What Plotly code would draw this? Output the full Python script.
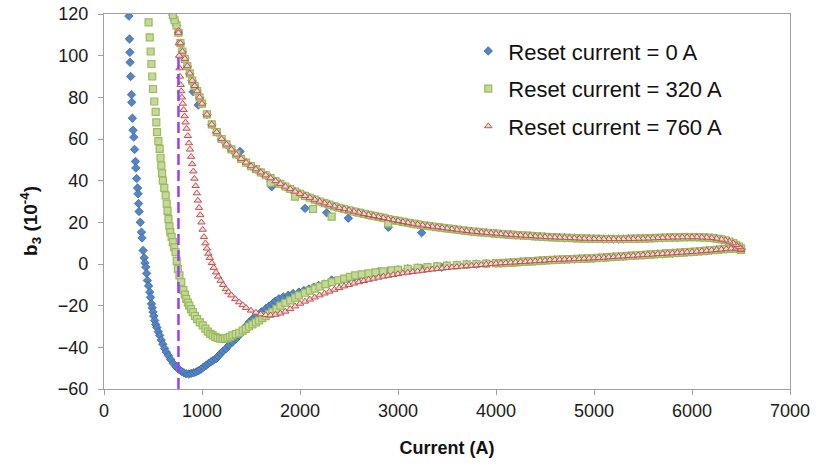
import plotly.graph_objects as go

# ---------------- data ----------------
# common down-ramp branch (6500 A -> 760 A), shared by all three runs
upper_current = [6500, 6480, 6450, 6420, 6380, 6340, 6300, 6250, 6200, 6150, 6100, 6050, 6000, 5950, 5900,
                 5850, 5800, 5750, 5700, 5650, 5600, 5550, 5500, 5450, 5400, 5350, 5300, 5250, 5200, 5150,
                 5100, 5050, 5000, 4950, 4900, 4850, 4800, 4750, 4700, 4650, 4600, 4550, 4500, 4450, 4400,
                 4350, 4300, 4250, 4200, 4150, 4100, 4050, 4000, 3950, 3900, 3850, 3800, 3750, 3700, 3650,
                 3600, 3550, 3500, 3450, 3400, 3350, 3300, 3250, 3200, 3150, 3100, 3050, 3000, 2950, 2900,
                 2850, 2800, 2750, 2700, 2650, 2600, 2550, 2500, 2450, 2400, 2350, 2300, 2250, 2200, 2150,
                 2100, 2050, 2000, 1950, 1900, 1850, 1800, 1750, 1700, 1650, 1600, 1550, 1500, 1450, 1400,
                 1350, 1300, 1250, 1200, 1150, 1100, 1050, 1000, 975, 950, 925, 900, 875, 850, 825, 800,
                 780, 760]
upper_b3 = [7.5, 8.3, 9.2, 10.0, 10.8, 11.4, 11.8, 12.2, 12.5, 12.7, 12.8, 12.9, 12.9, 12.9, 12.9,
            12.8, 12.8, 12.7, 12.6, 12.5, 12.4, 12.3, 12.2, 12.2, 12.1, 12.1, 12.0, 12.0, 12.0, 12.0,
            12.0, 12.1, 12.1, 12.2, 12.2, 12.3, 12.4, 12.5, 12.6, 12.7, 12.8, 12.9, 13.0, 13.2, 13.3,
            13.5, 13.6, 13.8, 13.9, 14.1, 14.2, 14.4, 14.6, 14.8, 15.0, 15.2, 15.4, 15.6, 15.9, 16.2,
            16.5, 16.8, 17.1, 17.4, 17.7, 18.0, 18.3, 18.6, 19.0, 19.4, 19.8, 20.2, 20.7, 21.1, 21.6,
            22.1, 22.6, 23.1, 23.6, 24.1, 24.7, 25.2, 25.8, 26.4, 27.0, 27.7, 28.5, 29.2, 30.0, 30.9,
            31.8, 32.7, 33.7, 34.8, 36.0, 37.2, 38.5, 39.8, 41.2, 42.6, 44.0, 45.5, 47.0, 48.7, 50.5,
            52.6, 55.0, 57.4, 60.0, 63.3, 67.0, 71.8, 77.0, 80.0, 83.0, 85.5, 88.0, 91.5, 95.0, 98.5, 102.0,
            106.0, 111.0]

# continuation of the down-ramp below 760 A (runs with reset 0 A and 320 A)
upper_ext_current = [740, 720, 703, 680, 650]
upper_ext_b3 = [114.5, 117.0, 119.5, 122.0, 127.0]

# common up-ramp tail (4050 A -> 6500 A)
lower_tail_current = [4050, 4100, 4150, 4200, 4250, 4300, 4350, 4400, 4450, 4500, 4550, 4600, 4650, 4700,
                      4750, 4800, 4850, 4900, 4950, 5000, 5050, 5100, 5150, 5200, 5250, 5300, 5350, 5400,
                      5450, 5500, 5550, 5600, 5650, 5700, 5750, 5800, 5850, 5900, 5950, 6000, 6050, 6100,
                      6150, 6200, 6250, 6300, 6350, 6400, 6450, 6500]
lower_tail_b3 = [0.4, 0.5, 0.7, 0.8, 1.0, 1.1, 1.3, 1.4, 1.6, 1.7, 1.9, 2.0, 2.1, 2.2,
                 2.3, 2.4, 2.5, 2.6, 2.7, 2.8, 3.0, 3.1, 3.3, 3.4, 3.6, 3.7, 3.9, 4.0,
                 4.2, 4.3, 4.5, 4.6, 4.8, 4.9, 5.1, 5.2, 5.4, 5.5, 5.7, 5.8, 6.0, 6.2,
                 6.4, 6.6, 6.8, 7.0, 7.2, 7.4, 7.5, 6.8]

# up-ramp, reset current = 760 A
red_lower_current = [760, 763, 767, 771, 776, 782, 788, 795, 803, 812, 822, 832, 843, 855, 866, 877, 889,
                     900, 912, 923, 935, 947, 958, 970, 982, 994, 1007, 1020, 1035, 1050, 1065, 1080, 1100,
                     1120, 1143, 1165, 1190, 1215, 1244, 1270, 1300, 1340, 1379, 1415, 1450, 1500, 1550,
                     1600, 1650, 1700, 1750, 1800, 1850, 1900, 1950, 2000, 2050, 2100, 2150, 2200, 2250,
                     2300, 2350, 2400, 2450, 2500, 2550, 2600, 2650, 2700, 2750, 2800, 2850, 2900, 2950,
                     3000, 3050, 3100, 3150, 3200, 3250, 3300, 3350, 3400, 3450, 3500, 3550, 3600, 3650,
                     3700, 3750, 3800, 3850, 3900, 3950, 4000]
red_lower_b3 = [112, 106, 100, 94, 90, 86, 83, 80, 77, 74, 71, 68, 65, 61.5, 58, 55, 51.5,
                48, 44.5, 41, 37.5, 34, 30.5, 27, 23.5, 20, 16.5, 13, 10, 7.5, 5, 3, 0.5,
                -1.8, -4, -6, -8, -10, -12, -13.5, -15, -16.8, -18.3, -19.7, -21, -22.3, -23.3,
                -24.1, -24.5, -24.6, -24.3, -23.7, -22.8, -21.6, -20.3, -19.0, -18.0, -17.0, -16.0, -15.0, -14.1,
                -13.2, -12.3, -11.5, -10.7, -10.0, -9.3, -8.7, -8.1, -7.5, -7.0, -6.5, -6.0, -5.6, -5.2,
                -4.8, -4.4, -4.1, -3.8, -3.5, -3.2, -2.9, -2.6, -2.3, -2.1, -1.8, -1.6, -1.4, -1.2,
                -1.0, -0.8, -0.6, -0.4, -0.2, 0.0, 0.2]

# up-ramp, reset current = 320 A
green_lower_current = [440, 455, 467, 476, 484, 492, 500, 513, 527, 534, 541, 555, 568, 577, 585, 593, 601,
                       615, 629, 640, 648, 658, 668, 676, 690, 703, 717, 730, 742, 754, 770, 788, 810, 825,
                       839, 855, 870, 888, 906, 928, 950, 978, 1007, 1035, 1060, 1085, 1109, 1135, 1160,
                       1185, 1210, 1235, 1260, 1285, 1311, 1345, 1380, 1415, 1447, 1480, 1515, 1550, 1582,
                       1615, 1650, 1685, 1717, 1760, 1800, 1850, 1900, 1950, 1988, 2050, 2100, 2150, 2200,
                       2260, 2325, 2390, 2450, 2510, 2563, 2630, 2700, 2770, 2850, 2934, 3000, 3100, 3200,
                       3300, 3400, 3500, 3600, 3700, 3800, 3900, 4000]
green_lower_b3 = [125, 116, 108.8, 102, 96, 90, 84, 78, 73, 68, 63.3, 59, 55.3, 51, 47.2, 43.5, 40,
                  36.5, 32.9, 29, 25.5, 21.5, 18, 15.3, 13, 10.5, 8, 5.7, 1.5, -2.3, -5.5, -8.7, -12.5, -14.7,
                  -16.7, -18.5, -20, -21.7, -23.1, -24.9, -26.5, -28, -29.5, -31, -32.5, -33.5, -34.3, -35, -35.5,
                  -35.8, -35.9, -35.8, -35.5, -35, -34.3, -33.6, -33, -32, -31.1, -30, -29, -28, -27.1,
                  -26, -25, -24, -23.1, -21.5, -20, -18.7, -17.5, -16.1, -15.1, -13.8, -12.8, -11.8, -10.8,
                  -9.7, -8.7, -7.8, -7, -6.2, -5.5, -5, -4.5, -4, -3.5, -3.1, -2.8, -2.3, -1.9,
                  -1.5, -1.1, -0.8, -0.5, -0.2, 0, 0.2, 0.4]

# up-ramp, reset current = 0 A
blue_lower_current = [230, 240, 254, 260, 264, 266, 272, 281, 283, 290, 297, 304, 312, 321, 325, 333, 342,
                      348, 353, 358, 370, 382, 388, 399, 410, 418, 426, 435, 443, 455, 467, 475, 484, 492,
                      500, 508, 517, 528, 540, 554, 568, 584, 600, 618, 636, 658, 680, 708, 737, 763, 790,
                      815, 839, 865, 890, 915, 940, 965, 990, 1015, 1042, 1065, 1090, 1115, 1143, 1165, 1190,
                      1215, 1244, 1275, 1310, 1345, 1379, 1405, 1430, 1455, 1481, 1520, 1560, 1605, 1650,
                      1685, 1720, 1750, 1785, 1830, 1880, 1930, 1988, 2040, 2090, 2140, 2191, 2245, 2300,
                      2350, 2400, 2450, 2495, 2550, 2600, 2650, 2700, 2760, 2830, 2900, 3000, 3100, 3200,
                      3300, 3400, 3500, 3600, 3700, 3800, 3900, 4000]
blue_lower_b3 = [135, 128, 119, 108, 101.6, 96.8, 90, 81.3, 77.6, 70, 64.2, 60.9, 55, 49.2, 46.1, 41, 36.5,
                 33.7, 29, 25.2, 20, 15.3, 12.5, 6.5, 3, 0.5, -1.5, -4.5, -7.9, -10.5, -13.5, -16, -19.1, -21,
                 -23, -25, -27.1, -29, -30.5, -32.5, -34.3, -36.5, -38.5, -40.5, -42.3, -44, -45.8, -47.8, -49.4,
                 -50.5, -51.5, -52.2, -52.7, -52.8, -52.5, -52.2, -51.8, -51.2, -50.5, -49.5, -48.7, -47.8, -47,
                 -46.2, -45.5, -44.2, -43, -41.8, -40.7, -39, -37.5, -36, -34.3, -32.6, -31, -29.5, -27.9,
                 -26.2, -24.5, -23, -21.5, -20.2, -19, -17.8, -16.7, -15.8, -15, -14.2, -13.5, -12.7, -12,
                 -11.1, -10.3, -9.6, -9, -8.5, -8, -7.5, -7.1, -6.5, -6, -5.5, -5, -4.5, -3.9, -3.4,
                 -2.8, -2.3, -1.9, -1.5, -1.1, -0.8, -0.5, -0.2, 0, 0.2, 0.4]

# scattered points that stand out of the bands
blue_scatter_current = [911, 962, 1388, 1711, 2051, 2272, 2493, 2901, 3241, 2187, 2323, 2799, 3241, 3446]
blue_scatter_b3 = [82.7, 76.3, 54.0, 37.1, 26.7, 24.6, 22.0, 17.6, 15.0, -10.9, -7.7, -3.7, -2.1, -1.6]
green_scatter_current = [1949, 2133, 2323, 1700, 2900]
green_scatter_b3 = [32.3, 26.4, 22.7, 39.0, 19.5]

# dashed marker of the 760 A reset current
reset_line_current = [760, 760]
reset_line_b3 = [-60, 100]

series_names = ["Reset current = 0 A", "Reset current = 320 A", "Reset current = 760 A"]

# ---------------- figure ----------------
blue_x = blue_lower_current + lower_tail_current + upper_current + upper_ext_current + blue_scatter_current
blue_y = blue_lower_b3 + lower_tail_b3 + upper_b3 + upper_ext_b3 + blue_scatter_b3
green_x = green_lower_current + lower_tail_current + upper_current + upper_ext_current + green_scatter_current
green_y = green_lower_b3 + lower_tail_b3 + upper_b3 + upper_ext_b3 + green_scatter_b3
red_x = red_lower_current + lower_tail_current + upper_current
red_y = red_lower_b3 + lower_tail_b3 + upper_b3

FONT = "Liberation Sans, Arial, sans-serif"

fig = go.Figure()
fig.add_trace(go.Scatter(
    x=blue_x, y=blue_y, mode="markers", name=series_names[0], legendgroup="a",
    marker=dict(symbol="diamond", size=6.5, color="#5585c2", line=dict(color="#3b68a3", width=0.8)),
    cliponaxis=True))
fig.add_trace(go.Scatter(
    x=green_x, y=green_y, mode="markers", name=series_names[1], legendgroup="b",
    marker=dict(symbol="square", size=7, color="#c4d89c", line=dict(color="#9bbb59", width=1.2)),
    cliponaxis=True))
fig.add_trace(go.Scatter(
    x=red_x, y=red_y, mode="markers", name=series_names[2], legendgroup="c",
    marker=dict(symbol="triangle-up", size=6.5, color="#f6dcdb", line=dict(color="#c0504d", width=1)),
    cliponaxis=True))
fig.add_trace(go.Scatter(
    x=reset_line_current, y=reset_line_b3, mode="lines", showlegend=False, hoverinfo="skip",
    line=dict(color="#9a3ff0", width=2.5, dash="11px,5px")))

axis_common = dict(
    showline=True, linecolor="#a0a0a0", linewidth=1.2, mirror=True,
    ticks="outside", ticklen=5, tickcolor="#a0a0a0", tickwidth=1,
    showgrid=False, zeroline=False, automargin=False,
    tickfont=dict(family=FONT, size=18, color="#1a1a1a"),
)

fig.update_layout(
    width=829, height=465,
    margin=dict(l=104, r=39, t=14, b=76, autoexpand=False),
    paper_bgcolor="white", plot_bgcolor="white",
    font=dict(family=FONT, color="#1a1a1a"),
    showlegend=True,
    legend=dict(
        x=0.531, y=0.957, xanchor="left", yanchor="top",
        font=dict(family=FONT, size=22, color="#111111"),
        bgcolor="rgba(0,0,0,0)", itemwidth=30,
        traceorder="grouped", tracegroupgap=6,
    ),
    xaxis=dict(range=[0, 7000], dtick=1000, tick0=0,
               title=dict(text="<b>Current (A)</b>", font=dict(family=FONT, size=18, color="#111111"),
                          standoff=21),
               **axis_common),
    yaxis=dict(range=[-60, 120], dtick=20, tick0=0, ticklabelstandoff=6,
               **axis_common),
    annotations=[dict(
        text="<b>b<sub>3</sub> (10<sup>-4</sup>)</b>", textangle=-90,
        xref="paper", yref="paper", x=-0.108, y=0.448, xanchor="center", yanchor="middle",
        showarrow=False, font=dict(family=FONT, size=19, color="#111111"))],
)

fig.write_html("out.html")
